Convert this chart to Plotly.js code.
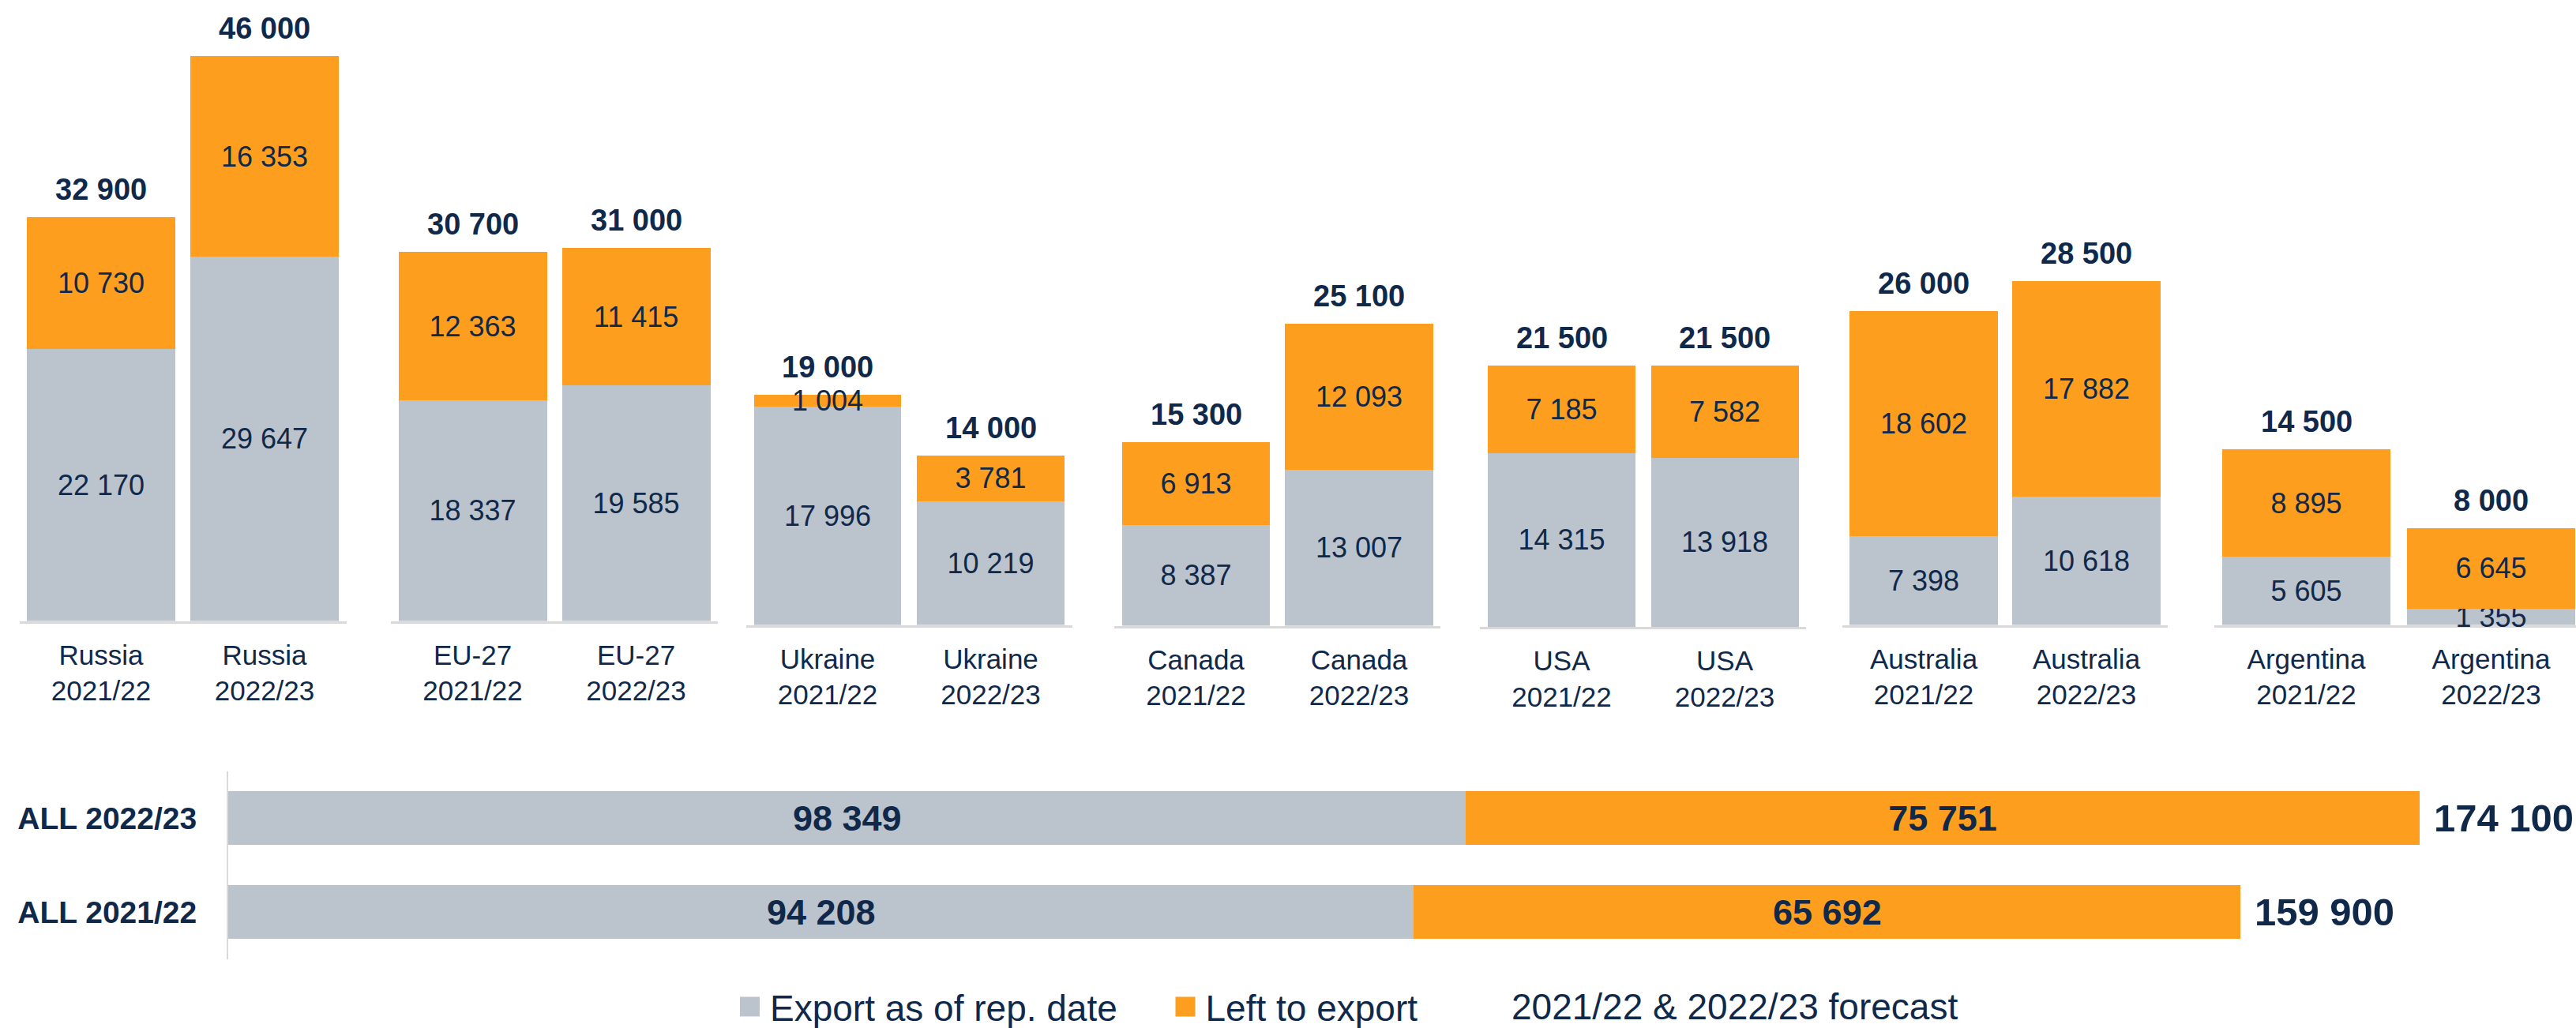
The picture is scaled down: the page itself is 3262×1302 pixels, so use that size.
<!DOCTYPE html>
<html>
<head>
<meta charset="utf-8">
<script src="https://cdn.plot.ly/plotly-3.0.1.min.js"></script>
<style>
html,body{margin:0;padding:0;background:#fff;}
g.legendpoints path { d: path("M12.5,12.5H-12.5V-12.5H12.5Z"); }
</style>
</head>
<body>
<div id="chart" style="width:3262px;height:1302px;"></div>
<script>
// ---------- DATA ----------
const countries = ['Russia', 'EU-27', 'Ukraine', 'Canada', 'USA', 'Australia', 'Argentina'];
const seasons = ['2021/22', '2022/23'];
const exported2122 = [22170, 18337, 17996, 8387, 14315, 7398, 5605];
const left2122     = [10730, 12363, 1004, 6913, 7185, 18602, 8895];
const total2122    = [32900, 30700, 19000, 15300, 21500, 26000, 14500];
const exported2223 = [29647, 19585, 10219, 13007, 13918, 10618, 1355];
const left2223     = [16353, 11415, 3781, 12093, 7582, 17882, 6645];
const total2223    = [46000, 31000, 14000, 25100, 21500, 28500, 8000];
const allCategories = ['ALL 2021/22', 'ALL 2022/23'];
const allExported = [94208, 98349];
const allLeft     = [65692, 75751];
const allTotal    = [159900, 174100];
const seriesNames = ['Export as of rep. date', 'Left to export'];
const noteText = '2021/22 & 2022/23 forecast';

// ---------- STYLE / GEOMETRY ----------
const W = 3262, H = 1302;
const GREY = '#BBC3CC', ORANGE = '#FD9E1F', NAVY = '#10294A', LINE = '#D9D9D9';
const FONT = 'Liberation Sans, Arial, sans-serif';
const LEGEND_Y = 1 - 1275 / H;
// per-group panel geometry (pixel centres of the two bars, baseline, px per 1000, bar width)
const geom = [
  {c1: 128,    c2: 335,    bottom: 786.5, pxk: 15.55, bw: 188},
  {c1: 598.5,  c2: 805.5,  bottom: 786.5, pxk: 15.23, bw: 188},
  {c1: 1048,   c2: 1254.5, bottom: 791.5, pxk: 15.35, bw: 186.5},
  {c1: 1514.5, c2: 1721,   bottom: 792.5, pxk: 15.22, bw: 187.5},
  {c1: 1977.5, c2: 2184,   bottom: 794,   pxk: 15.38, bw: 187},
  {c1: 2436,   c2: 2642,   bottom: 791.5, pxk: 15.27, bw: 188},
  {c1: 2920.5, c2: 3154.5, bottom: 791.5, pxk: 15.35, bw: 213}
];

const fmt = n => String(n).replace(/\B(?=(\d{3})+(?!\d))/g, ' ');

const traces = [];
const annotations = [];
const layout = {
  width: W, height: H,
  margin: {l: 0, r: 0, t: 0, b: 0, pad: 0, autoexpand: false},
  paper_bgcolor: '#fff', plot_bgcolor: 'rgba(0,0,0,0)',
  barmode: 'stack',
  font: {family: FONT, color: NAVY},
  showlegend: true,
  legend: {
    x: 924 / W, xanchor: 'left', y: LEGEND_Y, yanchor: 'middle',
    orientation: 'h', bgcolor: 'rgba(0,0,0,0)', itemwidth: 41,
    font: {family: FONT, size: 46, color: NAVY}
  },
  legend2: {
    x: 1475.5 / W, xanchor: 'left', y: LEGEND_Y, yanchor: 'middle',
    orientation: 'h', bgcolor: 'rgba(0,0,0,0)', itemwidth: 41,
    font: {family: FONT, size: 46, color: NAVY}
  },
  annotations: annotations
};

countries.forEach((country, g) => {
  const G = geom[g];
  const d = G.c2 - G.c1;
  const l = G.c1 - d / 2;
  const r = Math.min(G.c2 + d / 2, W);
  const sfx = g === 0 ? '' : String(g + 1);
  layout['xaxis' + sfx] = {
    type: 'category', domain: [l / W, r / W], range: [-0.5, -0.5 + (r - l) / d],
    anchor: 'y' + sfx, showline: true, linecolor: LINE, linewidth: 3, layer: 'below traces',
    showgrid: false, zeroline: false, ticks: '', fixedrange: true,
    tickvals: seasons, ticktext: seasons.map(s => country + '<br>' + s),
    tickfont: {family: FONT, size: 35, color: NAVY}, ticklabelstandoff: 10
  };
  layout['yaxis' + sfx] = {
    domain: [1 - G.bottom / H, 1], range: [0, G.bottom / (G.pxk / 1000)],
    anchor: 'x' + sfx, visible: false, fixedrange: true
  };
  const width = G.bw / d;
  const exp = [exported2122[g], exported2223[g]];
  const lef = [left2122[g], left2223[g]];
  const tot = [total2122[g], total2223[g]];
  [[exp, GREY, 0], [lef, ORANGE, 1]].forEach(([vals, col, si]) => {
    traces.push({
      type: 'bar', name: seriesNames[si], x: seasons, y: vals,
      xaxis: 'x' + sfx, yaxis: 'y' + sfx, width: width,
      marker: {color: col, line: {width: 0}},
      text: vals.map(fmt), textposition: 'inside', insidetextanchor: 'middle',
      textangle: 0, constraintext: 'none', cliponaxis: false,
      textfont: {family: FONT, size: 36, color: NAVY},
      legend: si === 0 ? 'legend' : 'legend2',
      showlegend: g === 0, hoverinfo: 'skip'
    });
  });
  seasons.forEach((s, i) => {
    annotations.push({
      xref: 'x' + sfx, yref: 'y' + sfx, x: s, y: tot[i],
      text: fmt(tot[i]), showarrow: false, yanchor: 'middle', yshift: 35,
      font: {family: FONT, size: 38, color: NAVY, weight: 700}
    });
  });
});

// ---------- bottom summary chart ----------
const xStart = 289, pxPerUnit = 0.015937;
layout.xaxis8 = {
  domain: [xStart / W, 1], range: [0, (W - xStart) / pxPerUnit],
  anchor: 'y8', visible: false, fixedrange: true
};
layout.yaxis8 = {
  type: 'category', domain: [1 - 1214.5 / H, 1 - 976.5 / H], range: [-0.5, 1.5],
  anchor: 'x8', showline: true, linecolor: LINE, linewidth: 2, showgrid: false,
  zeroline: false, ticks: '', fixedrange: true, ticklabelstandoff: 30,
  tickfont: {family: FONT, size: 39, color: NAVY, weight: 700}
};
[[allExported, GREY, 0], [allLeft, ORANGE, 1]].forEach(([vals, col, si]) => {
  traces.push({
    type: 'bar', orientation: 'h', name: seriesNames[si], x: vals, y: allCategories,
    xaxis: 'x8', yaxis: 'y8', width: 68 / 119,
    marker: {color: col, line: {width: 0}},
    text: vals.map(fmt), textposition: 'inside', insidetextanchor: 'middle',
    textangle: 0, constraintext: 'none', cliponaxis: false,
    textfont: {family: FONT, size: 45, color: NAVY, weight: 700},
    legend: si === 0 ? 'legend' : 'legend2', showlegend: false, hoverinfo: 'skip'
  });
});
allCategories.forEach((c, i) => {
  annotations.push({
    xref: 'x8', yref: 'y8', x: allTotal[i], y: c, text: fmt(allTotal[i]),
    showarrow: false, xanchor: 'left', xshift: 16, yanchor: 'middle',
    font: {family: FONT, size: 49, color: NAVY, weight: 700}
  });
});
annotations.push({
  xref: 'paper', yref: 'paper', x: 1912 / W, y: LEGEND_Y, xanchor: 'left', yanchor: 'middle',
  text: noteText, showarrow: false, font: {family: FONT, size: 46, color: NAVY}
});

function enlargeLegendSymbols() {
  document.querySelectorAll('g.legendpoints path').forEach(p => {
    p.setAttribute('d', 'M12.5,12.5H-12.5V-12.5H12.5Z');
  });
}
const gd = document.getElementById('chart');
Plotly.newPlot(gd, traces, layout, {staticPlot: true, displayModeBar: false}).then(() => {
  enlargeLegendSymbols();
  if (gd.on) gd.on('plotly_afterplot', enlargeLegendSymbols);
  setTimeout(enlargeLegendSymbols, 50);
  setTimeout(enlargeLegendSymbols, 300);
});
</script>
</body>
</html>
